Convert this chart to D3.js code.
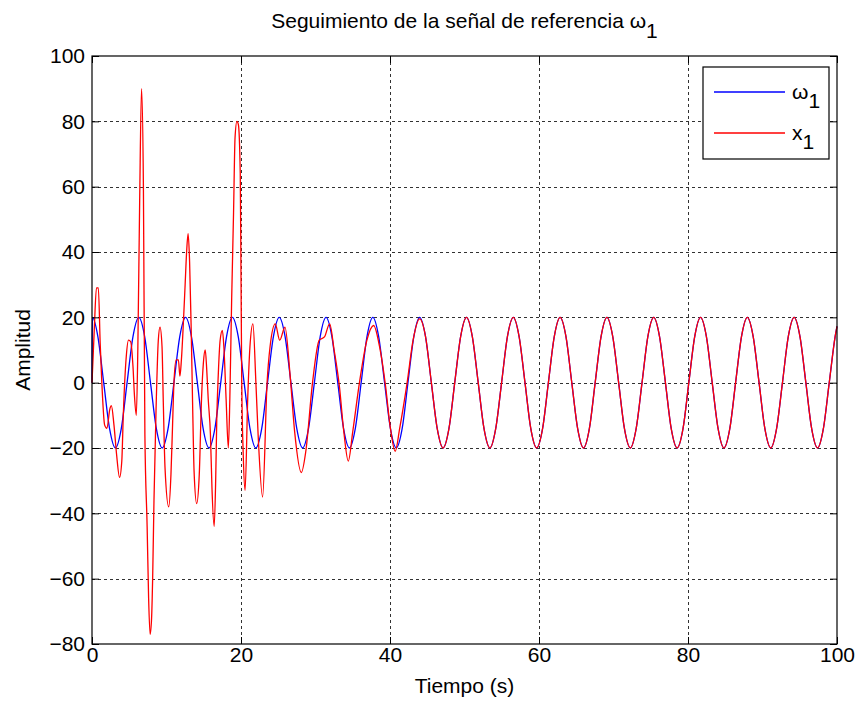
<!DOCTYPE html>
<html>
<head>
<meta charset="utf-8">
<script src="https://cdn.jsdelivr.net/npm/d3@7/dist/d3.min.js"></script>
<style>
    body { margin: 0; background: #fff; }
    text { font-family: "Liberation Sans", Arial, sans-serif; fill: #000; }
</style>
</head>
<body>
<script>
// tick labels
var xTicks = [0, 20, 40, 60, 80, 100];
var yTicks = [-80, -60, -40, -20, 0, 20, 40, 60, 80, 100];

// reference signal w1 (at eighth periods)
var refTime = [0, 0.05, 0.79, 1.57, 2.36, 3.14, 3.93, 4.71, 5.50,
    6.28, 7.07, 7.85, 8.64, 9.42, 10.21, 11.00, 11.78,
    12.57, 13.35, 14.14, 14.92, 15.71, 16.49, 17.28, 18.06,
    18.85, 19.63, 20.42, 21.21, 21.99, 22.78, 23.56, 24.35,
    25.13, 25.92, 26.70, 27.49, 28.27, 29.06, 29.85, 30.63,
    31.42, 32.20, 32.99, 33.77, 34.56, 35.34, 36.13, 36.91,
    37.70, 38.48, 39.27, 40.06, 40.84, 41.63, 42.41, 43.20,
    43.98, 44.77, 45.55, 46.34, 47.12, 47.91, 48.69, 49.48,
    50.27, 51.05, 51.84, 52.62, 53.41, 54.19, 54.98, 55.76,
    56.55, 57.33, 58.12, 58.90, 59.69, 60.48, 61.26, 62.05,
    62.83, 63.62, 64.40, 65.19, 65.97, 66.76, 67.54, 68.33,
    69.12, 69.90, 70.69, 71.47, 72.26, 73.04, 73.83, 74.61,
    75.40, 76.18, 76.97, 77.75, 78.54, 79.33, 80.11, 80.90,
    81.68, 82.47, 83.25, 84.04, 84.82, 85.61, 86.39, 87.18,
    87.96, 88.75, 89.54, 90.32, 91.11, 91.89, 92.68, 93.46,
    94.25, 95.03, 95.82, 96.60, 97.39, 98.17, 98.96, 99.75, 100];
var refValue = [0, 20, 14.1, 0, -14.1, -20, -14.1, 0, 14.1,
    20, 14.1, 0, -14.1, -20, -14.1, 0, 14.1,
    20, 14.1, 0, -14.1, -20, -14.1, 0, 14.1,
    20, 14.1, 0, -14.1, -20, -14.1, 0, 14.1,
    20, 14.1, 0, -14.1, -20, -14.1, 0, 14.1,
    20, 14.1, 0, -14.1, -20, -14.1, 0, 14.1,
    20, 14.1, 0, -14.1, -20, -14.1, 0, 14.1,
    20, 14.1, 0, -14.1, -20, -14.1, 0, 14.1,
    20, 14.1, 0, -14.1, -20, -14.1, 0, 14.1,
    20, 14.1, 0, -14.1, -20, -14.1, 0, 14.1,
    20, 14.1, 0, -14.1, -20, -14.1, 0, 14.1,
    20, 14.1, 0, -14.1, -20, -14.1, 0, 14.1,
    20, 14.1, 0, -14.1, -20, -14.1, 0, 14.1,
    20, 14.1, 0, -14.1, -20, -14.1, 0, 14.1,
    20, 14.1, 0, -14.1, -20, -14.1, 0, 14.1,
    20, 14.1, 0, -14.1, -20, -14.1, 0, 14.1, 17.2];

// state x1 (transient read point by point, then steady tracking)
var outTime = [0, 0.3, 0.6, 0.85, 1.1, 1.3, 1.7, 2.0, 2.4, 2.6, 2.95, 3.3, 3.7, 4.0, 4.2, 4.6, 4.9, 5.2, 5.5, 5.7,
    5.95, 6.15, 6.4, 6.65, 6.9, 7.1, 7.4, 7.6, 7.8, 8.0, 8.14, 8.32, 8.6, 8.9, 9.13, 9.4, 9.57, 9.8, 10.3, 10.6,
    10.8, 11.0, 11.3, 11.6, 11.8, 12.0, 12.3, 12.5, 12.7, 12.9, 13.1, 13.3, 13.5, 13.7, 14.05, 14.4, 14.7, 14.95, 15.2, 15.4,
    15.6, 15.9, 16.1, 16.4, 16.6, 16.75, 16.96, 17.2, 17.5, 17.7, 18.0, 18.3, 18.5, 18.75, 19.0, 19.2, 19.45, 19.65, 19.9, 20.0,
    20.1, 20.3, 20.55, 20.9, 21.2, 21.6, 22.0, 22.3, 22.9, 23.5, 23.9, 24.6, 25.2, 25.9, 26.6, 27.2, 28.1, 28.7, 29.6, 30.5,
    31.2, 31.9, 32.5, 33.2, 33.8, 34.4, 35.0, 35.9, 36.9, 37.8, 38.6, 39.4, 40.0, 40.7, 41.3, 42.3, 43.1, 43.98,
    44.77, 45.55, 46.34, 47.12, 47.91, 48.69, 49.48,
    50.27, 51.05, 51.84, 52.62, 53.41, 54.19, 54.98, 55.76,
    56.55, 57.33, 58.12, 58.90, 59.69, 60.48, 61.26, 62.05,
    62.83, 63.62, 64.40, 65.19, 65.97, 66.76, 67.54, 68.33,
    69.12, 69.90, 70.69, 71.47, 72.26, 73.04, 73.83, 74.61,
    75.40, 76.18, 76.97, 77.75, 78.54, 79.33, 80.11, 80.90,
    81.68, 82.47, 83.25, 84.04, 84.82, 85.61, 86.39, 87.18,
    87.96, 88.75, 89.54, 90.32, 91.11, 91.89, 92.68, 93.46,
    94.25, 95.03, 95.82, 96.60, 97.39, 98.17, 98.96, 99.75, 100];
var outValue = [0, 16, 29, 29, 12, 1, -13, -14, -8, -7, -13, -22, -29, -24, -10, 8, 13, 12.5, 5, -4,
    -10, 10, 56, 90, 60, -16, -44, -66, -77, -72, -60, -36, -8, 13, 17, 11, -6, -26, -38, -28,
    -14, 0, 7, 7, 2, 7, 20, 30, 40, 45.6, 37, 18, -6, -27, -37, -28, -5, 6, 10, 4,
    -5, -16, -32, -44, -30, -11, 3, 13, 16, 11, -5, -20, -5, 26, 52, 75, 80, 79, 64, 33,
    0, -22, -33, -5, 11, 18, 0, -16, -35, 0, 11, 18, 13, 17, 2, -15, -27.5, -21, 0, 13,
    14, 18, 10, -1, -15, -24, -15, 0, 13, 17.5, 11, -1, -13, -21, -14, 0, 13, 19.5,
    14.1, 0, -14.1, -20, -14.1, 0, 14.1,
    20, 14.1, 0, -14.1, -20, -14.1, 0, 14.1,
    20, 14.1, 0, -14.1, -20, -14.1, 0, 14.1,
    20, 14.1, 0, -14.1, -20, -14.1, 0, 14.1,
    20, 14.1, 0, -14.1, -20, -14.1, 0, 14.1,
    20, 14.1, 0, -14.1, -20, -14.1, 0, 14.1,
    20, 14.1, 0, -14.1, -20, -14.1, 0, 14.1,
    20, 14.1, 0, -14.1, -20, -14.1, 0, 14.1,
    20, 14.1, 0, -14.1, -20, -14.1, 0, 14.1, 17.2];

// init
var margin = { top: 56, right: 24, bottom: 67, left: 92 },
    width  = 861,
    height = 711,
    fontSize = 21;

var xScale = d3.scaleLinear().domain([0, 100]).range([margin.left, width - margin.right]);
var yScale = d3.scaleLinear().domain([-80, 100]).range([height - margin.bottom, margin.top]);

var svg = d3.select('body')
    .append('svg')
    .attr('width', width)
    .attr('height', height);

function zip(t, v) {
    return t.map(function (d, i) { return [d, v[i]]; });
}

/**
 * dotted grid
 */
function drawGrid() {
    var g = svg.append('g')
        .attr('stroke', '#000')
        .attr('stroke-width', 1)
        .attr('stroke-dasharray', '3,3')
        .attr('opacity', 0.8);
    g.selectAll('.gx')
        .data(xTicks.slice(1, -1))
        .join('line')
        .attr('x1', d => xScale(d) + 0.5)
        .attr('x2', d => xScale(d) + 0.5)
        .attr('y1', yScale(100))
        .attr('y2', yScale(-80));
    g.selectAll('.gy')
        .data(yTicks.slice(1, -1))
        .join('line')
        .attr('y1', d => Math.round(yScale(d)) + 0.5)
        .attr('y2', d => Math.round(yScale(d)) + 0.5)
        .attr('x1', xScale(0))
        .attr('x2', xScale(100));
}

/**
 * signals
 */
function drawLines() {
    var line = d3.line()
        .x(d => xScale(d[0]))
        .y(d => yScale(d[1]))
        .curve(d3.curveMonotoneX);
    svg.append('path')
        .datum(zip(refTime, refValue))
        .attr('fill', 'none')
        .attr('stroke', '#0000ff')
        .attr('stroke-width', 1.3)
        .attr('d', line);
    svg.append('path')
        .datum(zip(outTime, outValue))
        .attr('fill', 'none')
        .attr('stroke', '#ff0000')
        .attr('stroke-width', 1.3)
        .attr('d', line);
}

/**
 * axes with inner ticks on all four sides
 */
function drawAxes() {
    var x0 = xScale(0), x1 = xScale(100), y0 = yScale(-80), y1 = yScale(100);

    var xAxis = d3.axisBottom(xScale).tickValues(xTicks).tickSizeInner(-7).tickSizeOuter(0).tickPadding(3);
    var gx = svg.append('g').attr('transform', 'translate(0,' + y0 + ')').call(xAxis);
    gx.selectAll('text').attr('font-size', fontSize).attr('font-family', null);

    var yAxis = d3.axisLeft(yScale).tickValues(yTicks).tickSizeInner(-7).tickSizeOuter(0).tickPadding(7);
    var gy = svg.append('g').attr('transform', 'translate(' + x0 + ',0)').call(yAxis);
    gy.selectAll('text').attr('font-size', fontSize).attr('font-family', null);

    // top and right ticks, no labels
    svg.append('g').attr('transform', 'translate(0,' + y1 + ')')
        .call(d3.axisTop(xScale).tickValues(xTicks).tickSizeInner(-7).tickSizeOuter(0).tickFormat(''));
    svg.append('g').attr('transform', 'translate(' + x1 + ',0)')
        .call(d3.axisRight(yScale).tickValues(yTicks).tickSizeInner(-7).tickSizeOuter(0).tickFormat(''));

    svg.selectAll('.domain').remove();

    // box
    svg.append('rect')
        .attr('x', x0)
        .attr('y', y1)
        .attr('width', x1 - x0)
        .attr('height', y0 - y1)
        .attr('fill', 'none')
        .attr('stroke', '#000')
        .attr('stroke-width', 1.2);
}

/**
 * title and axis labels
 */
function drawLabels() {
    var cx = (xScale(0) + xScale(100)) / 2;
    var title = svg.append('text')
        .attr('x', cx)
        .attr('y', 28)
        .attr('text-anchor', 'middle')
        .attr('font-size', fontSize);
    title.append('tspan').text('Seguimiento de la señal de referencia ω');
    title.append('tspan').attr('dy', 10).text('1');

    svg.append('text')
        .attr('x', cx)
        .attr('y', 693)
        .attr('text-anchor', 'middle')
        .attr('font-size', fontSize)
        .text('Tiempo (s)');

    svg.append('text')
        .attr('transform', 'translate(30,' + (yScale(10)) + ') rotate(-90)')
        .attr('text-anchor', 'middle')
        .attr('font-size', fontSize)
        .text('Amplitud');
}

/**
 * legend box
 */
function drawLegend() {
    var g = svg.append('g').attr('transform', 'translate(703,67)');
    g.append('rect')
        .attr('width', 126)
        .attr('height', 92)
        .attr('fill', '#fff')
        .attr('stroke', '#000')
        .attr('stroke-width', 1.2);
    var items = [
        { name: 'ω', color: '#0000ff', y: 25 },
        { name: 'x', color: '#ff0000', y: 66 }
    ];
    items.forEach(function (d) {
        g.append('line')
            .attr('x1', 11).attr('x2', 82)
            .attr('y1', d.y).attr('y2', d.y)
            .attr('stroke', d.color)
            .attr('stroke-width', 1.3);
        var t = g.append('text')
            .attr('x', 89)
            .attr('y', d.y + 7)
            .attr('font-size', fontSize);
        t.append('tspan').text(d.name);
        t.append('tspan').attr('dy', 9).text('1');
    });
}

function draw() {
    drawGrid();
    drawLines();
    drawAxes();
    drawLabels();
    drawLegend();
}

draw();
</script>
</body>
</html>
